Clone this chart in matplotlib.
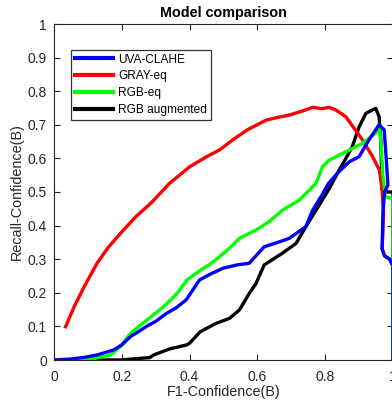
import matplotlib
matplotlib.use("Agg")
import matplotlib.pyplot as plt

plt.rcParams['font.family'] = ['Liberation Sans', 'DejaVu Sans']

labels = ["UVA-CLAHE", "GRAY-eq", "RGB-eq", "RGB augmented"]
colors = ["#0000ff", "#ff0000", "#00ff00", "#000000"]

red_x = [0.034, 0.06, 0.09, 0.127, 0.16, 0.196, 0.24, 0.289, 0.34, 0.4, 0.45, 0.488, 0.527,
         0.57, 0.626, 0.66, 0.694, 0.73, 0.763, 0.79, 0.812, 0.83, 0.861, 0.885, 0.91, 0.94,
         0.96, 0.968, 0.972, 0.968, 0.975, 0.99, 1.0, 1.0]
red_y = [0.099, 0.16, 0.22, 0.288, 0.335, 0.377, 0.425, 0.47, 0.525, 0.575, 0.605, 0.625, 0.655,
         0.685, 0.714, 0.722, 0.729, 0.74, 0.752, 0.748, 0.752, 0.745, 0.724, 0.69, 0.655, 0.605,
         0.565, 0.506, 0.43, 0.33, 0.31, 0.30, 0.28, 0.0]

blue_x = [0.0, 0.05, 0.09, 0.127, 0.176, 0.2, 0.226, 0.25, 0.273, 0.3, 0.332, 0.36, 0.39, 0.429,
          0.46, 0.498, 0.54, 0.576, 0.62, 0.66, 0.694, 0.743, 0.763, 0.79, 0.81, 0.84, 0.871,
          0.9, 0.929, 0.959, 0.974, 0.98, 0.985, 0.975, 0.97, 0.968, 0.975, 0.99, 1.0, 1.0]
blue_y = [0.0, 0.003, 0.008, 0.015, 0.03, 0.045, 0.07, 0.085, 0.10, 0.115, 0.139, 0.155, 0.179,
          0.238, 0.255, 0.273, 0.283, 0.288, 0.337, 0.35, 0.362, 0.397, 0.446, 0.49, 0.526, 0.56,
          0.59, 0.605, 0.655, 0.70, 0.685, 0.60, 0.52, 0.50, 0.43, 0.33, 0.31, 0.30, 0.28, 0.0]

green_x = [0.0, 0.06, 0.12, 0.167, 0.196, 0.226, 0.25, 0.274, 0.3, 0.324, 0.363, 0.392, 0.429,
           0.46, 0.488, 0.52, 0.547, 0.596, 0.635, 0.674, 0.724, 0.773, 0.792, 0.812, 0.832,
           0.851, 0.871, 0.91, 0.949, 0.959, 0.965, 0.97, 0.978, 1.0, 1.0]
green_y = [0.0, 0.0, 0.005, 0.015, 0.04, 0.08, 0.10, 0.119, 0.14, 0.159, 0.198, 0.238, 0.265,
           0.285, 0.307, 0.335, 0.362, 0.387, 0.412, 0.446, 0.476, 0.526, 0.575, 0.595, 0.605,
           0.615, 0.625, 0.645, 0.675, 0.70, 0.64, 0.55, 0.486, 0.48, 0.0]

black_x = [0.0, 0.196, 0.255, 0.282, 0.294, 0.341, 0.392, 0.4, 0.431, 0.478, 0.518, 0.547, 0.576,
           0.596, 0.62, 0.674, 0.714, 0.743, 0.773, 0.812, 0.841, 0.861, 0.88, 0.9, 0.92, 0.949,
           0.959, 0.964, 0.968, 0.98, 1.0, 1.0]
black_y = [0.0, 0.0, 0.005, 0.007, 0.015, 0.033, 0.045, 0.05, 0.084, 0.109, 0.124, 0.149, 0.198,
           0.228, 0.283, 0.318, 0.347, 0.397, 0.446, 0.51, 0.565, 0.60, 0.635, 0.694, 0.734, 0.749,
           0.724, 0.655, 0.506, 0.50, 0.50, 0.0]

xticks = [0, 0.2, 0.4, 0.6, 0.8, 1]
xticklabels = ["0", "0.2", "0.4", "0.6", "0.8", "1"]
yticks = [0, 0.1, 0.2, 0.3, 0.4, 0.5, 0.6, 0.7, 0.8, 0.9, 1]
yticklabels = ["0", "0.1", "0.2", "0.3", "0.4", "0.5", "0.6", "0.7", "0.8", "0.9", "1"]

W, H = 392, 405
fig = plt.figure(figsize=(W / 100, H / 100), dpi=100)
ax = fig.add_axes([54 / W, 1 - 360 / H, 339 / W, 336 / H])

lw = 2.4
series = {
    "black": (black_x, black_y, colors[3], labels[3]),
    "red": (red_x, red_y, colors[1], labels[1]),
    "green": (green_x, green_y, colors[2], labels[2]),
    "blue": (blue_x, blue_y, colors[0], labels[0]),
}
handles = {}
for key in ["black", "red", "green", "blue"]:
    xs, ys, c, lab = series[key]
    h, = ax.plot(xs, ys, color=c, lw=lw, label=lab, solid_joinstyle='round')
    handles[lab] = h

ax.set_xlim(0, 1)
ax.set_ylim(0, 1)
ax.set_xticks(xticks)
ax.set_xticklabels(xticklabels)
ax.set_yticks(yticks)
ax.set_yticklabels(yticklabels)
axc = (0.15, 0.15, 0.15)
ax.tick_params(direction='in', length=4, width=0.8, top=True, right=True,
               labelsize=10, colors=axc)
ax.tick_params(axis='x', pad=7)
ax.tick_params(axis='y', pad=5)
for s in ax.spines.values():
    s.set_color(axc)
    s.set_linewidth(0.8)

ax.set_title("Model comparison", fontsize=10.4, fontweight='bold', pad=5)
ax.set_xlabel("F1-Confidence(B)", fontsize=10.4, color=axc, labelpad=1)
ax.set_ylabel("Recall-Confidence(B)", fontsize=10.4, color=axc, labelpad=3)

leg = ax.legend([handles[l] for l in labels], labels, loc='upper left',
                bbox_to_anchor=(17 / 339, 1 - 26 / 336), fontsize=8.6,
                frameon=True, fancybox=False, handlelength=3.2, handletextpad=0.45,
                labelspacing=0.4, borderpad=0.3, borderaxespad=0)
leg.get_frame().set_edgecolor('black')
leg.get_frame().set_linewidth(0.9)
for lh in leg.get_lines():
    lh.set_linewidth(3.0)

fig.savefig("out.png", dpi=100)
